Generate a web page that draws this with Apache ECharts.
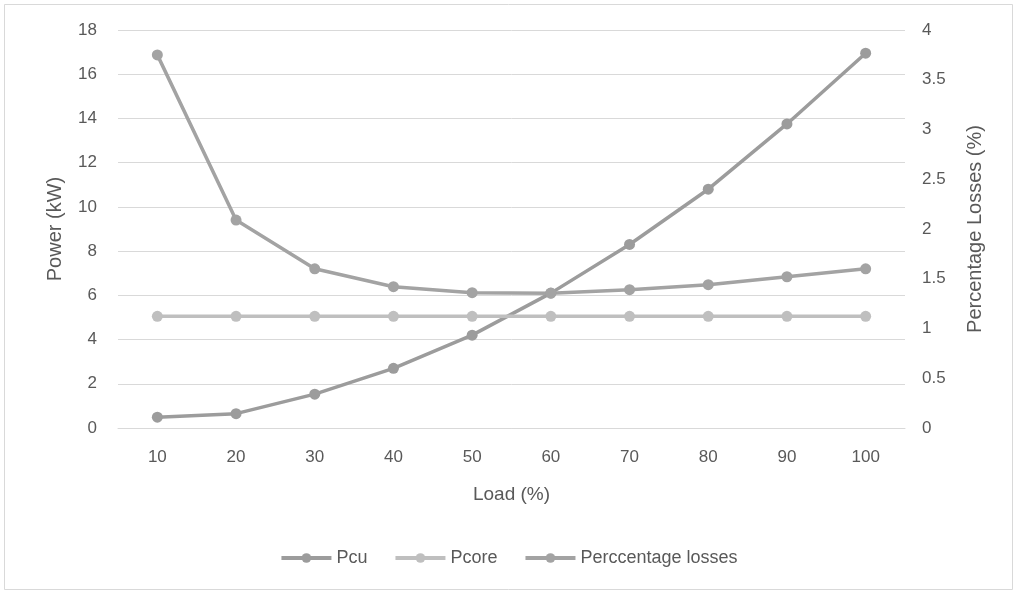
<!DOCTYPE html>
<html>
<head>
<meta charset="utf-8">
<script src="https://cdn.jsdelivr.net/npm/echarts@6/dist/echarts.min.js"></script>
<style>
  html, body { margin: 0; padding: 0; background: #ffffff; }
  #chart { width: 1017px; height: 594px; }
</style>
</head>
<body>
<div id="chart"></div>
<script>
// Load levels (%) on the category axis
const loads = ['10', '20', '30', '40', '50', '60', '70', '80', '90', '100'];
// Copper losses (kW)
const pcu = [0.49, 0.65, 1.53, 2.7, 4.2, 6.1, 8.3, 10.8, 13.75, 16.95];
// Core losses (kW)
const pcore = [5.05, 5.05, 5.05, 5.05, 5.05, 5.05, 5.05, 5.05, 5.05, 5.05];
// Total losses as a percentage (right axis)
const percentLosses = [3.75, 2.09, 1.6, 1.42, 1.36, 1.355, 1.39, 1.44, 1.52, 1.6];

const textColor = '#595959';
const fontFamily = 'Liberation Sans, Arial, sans-serif';

const chart = echarts.init(document.getElementById('chart'), null, { renderer: 'canvas' });

function lineSeries(name, data, color, axisIndex) {
  return {
    name: name,
    type: 'line',
    yAxisIndex: axisIndex,
    data: data,
    symbol: 'circle',
    symbolSize: 11,
    lineStyle: { color: color, width: 3.5 },
    itemStyle: { color: color },
    emphasis: { disabled: true },
    animation: false
  };
}

chart.setOption({
  backgroundColor: '#ffffff',
  textStyle: { fontFamily: fontFamily, color: textColor },
  graphic: [{
    type: 'rect',
    shape: { x: 4.5, y: 4.5, width: 1008, height: 585 },
    style: { fill: 'none', stroke: '#d9d9d9', lineWidth: 1 },
    silent: true
  }],
  grid: { left: 118, right: 112, top: 30, bottom: 166 },
  legend: {
    bottom: 22,
    left: 'center',
    itemWidth: 50,
    itemHeight: 12,
    itemGap: 26,
    lineStyle: { width: 4 },
    textStyle: { fontSize: 18, color: textColor, fontFamily: fontFamily },
    data: ['Pcu', 'Pcore', 'Perccentage losses']
  },
  xAxis: {
    type: 'category',
    data: loads,
    boundaryGap: true,
    name: 'Load (%)',
    nameLocation: 'middle',
    nameGap: 57,
    nameTextStyle: { fontSize: 19, color: textColor },
    axisLine: { show: true, lineStyle: { color: '#d9d9d9', width: 1 } },
    axisTick: { show: false },
    axisLabel: { fontSize: 17, color: textColor, margin: 21 }
  },
  yAxis: [{
    type: 'value',
    min: 0,
    max: 18,
    interval: 2,
    name: 'Power (kW)',
    nameLocation: 'middle',
    nameGap: 53,
    nameTextStyle: { fontSize: 20, color: textColor },
    axisLine: { show: false },
    axisTick: { show: false },
    axisLabel: { fontSize: 17, color: textColor, margin: 21 },
    splitLine: { show: true, lineStyle: { color: '#d9d9d9', width: 1 } }
  }, {
    type: 'value',
    min: 0,
    max: 4,
    interval: 0.5,
    name: 'Percentage Losses (%)',
    nameLocation: 'middle',
    nameGap: 60,
    nameRotate: 90,
    nameTextStyle: { fontSize: 20, color: textColor },
    axisLine: { show: false },
    axisTick: { show: false },
    axisLabel: { fontSize: 17, color: textColor, margin: 17 },
    splitLine: { show: false }
  }],
  series: [
    lineSeries('Pcu', pcu, '#9c9c9c', 0),
    lineSeries('Pcore', pcore, '#bfbfbf', 0),
    lineSeries('Perccentage losses', percentLosses, '#a3a3a3', 1)
  ]
});
</script>
</body>
</html>
